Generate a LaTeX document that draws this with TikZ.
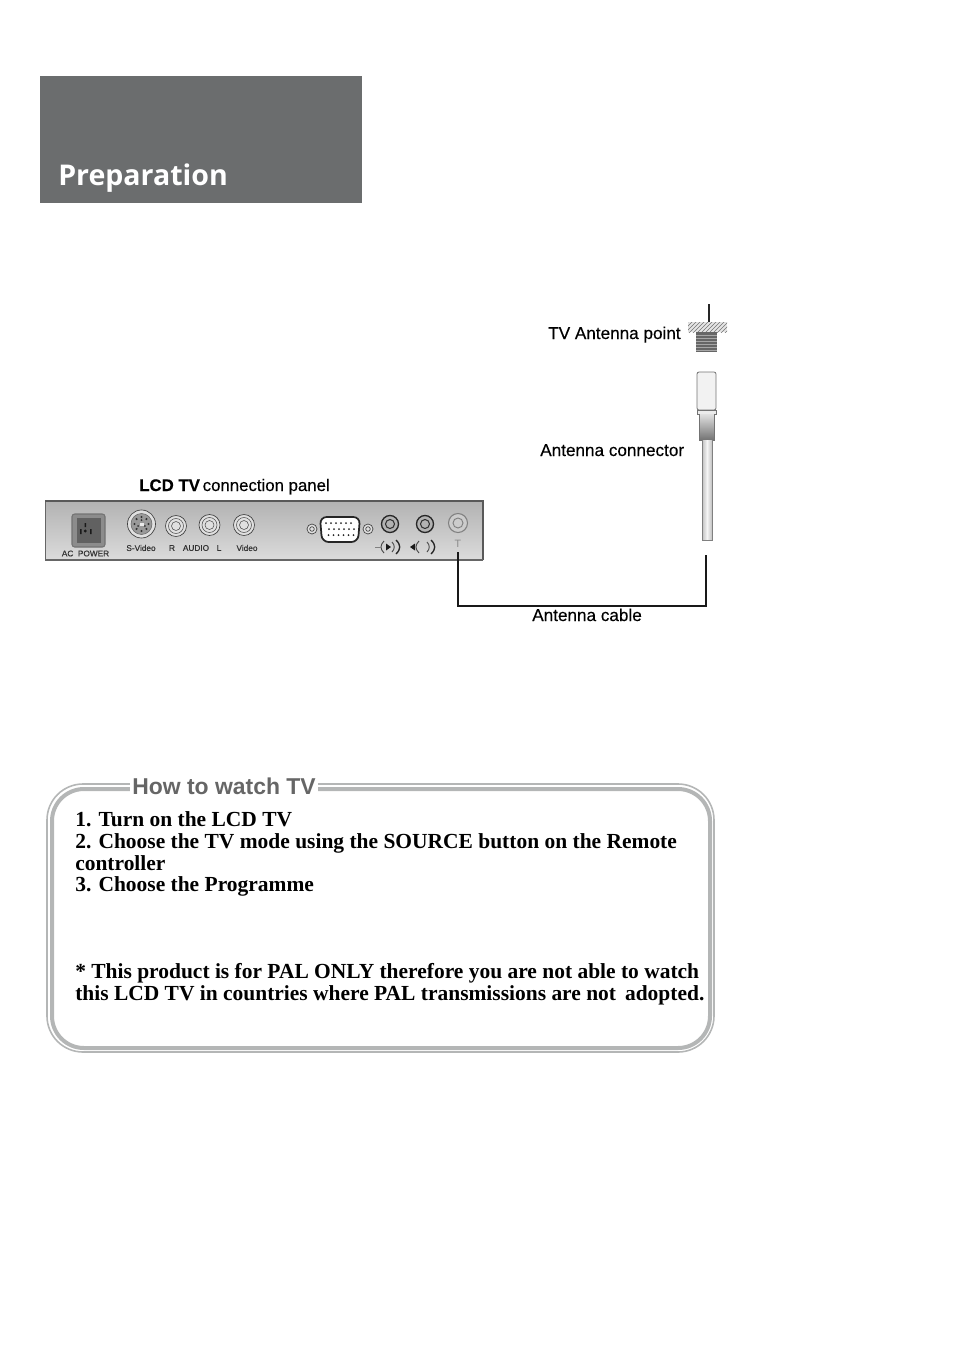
\documentclass[tikz,border=0pt]{standalone}
\usepackage{fontspec}
\setmainfont{Liberation Sans}
\newfontfamily\lblfont[FakeBold=0.35]{Liberation Sans}
\newfontfamily\bodyfont{Liberation Serif}
\newfontfamily\headfont{Open Sans}
\usetikzlibrary{patterns}
\definecolor{headgray}{HTML}{6B6D6E}
\definecolor{framegray}{HTML}{B4B6B6}
\tikzset{
  lbl/.style={inner sep=0pt, anchor=base west, font=\lblfont\fontsize{12.85}{12.85}\selectfont, text=black},
  tiny/.style={inner sep=0pt, font=\lblfont\fontsize{6.2}{6.2}\selectfont, text=black!80},
  body/.style={inner sep=0pt, anchor=base west, font=\bodyfont\bfseries\fontsize{16.1}{16.1}\selectfont},
  jack/.style={draw=black!75, fill=black!12, line width=0.5pt},
  cable/.style={line width=1.5pt, black!90},
}
\begin{document}
\begin{tikzpicture}[x=0.75pt, y=-0.75pt]
  \useasboundingbox (0,0) rectangle (954,1350);
  % header
  \fill[headgray] (40,76) rectangle (362,203);
  \node[inner sep=0pt, anchor=base west, text=white, font=\headfont\bfseries\fontsize{21.4}{21.4}\selectfont] (head) at (58,185) {Preparation};
  % panel
  \node[lbl, font=\lblfont\fontsize{12.6}{12.6}\selectfont] (paneltitle) at (139,491) {{\bfseries LCD TV}\,connection panel};
  \shade[top color=black!30, bottom color=black!14] (45,501) rectangle (483,560);
  \draw[black!60, line width=0.6pt] (45,560) -- (45,501);
  \draw[black!65, line width=0.9pt] (45,501) -- (483,501) -- (483,560);
  \draw[black!60, line width=1.2pt] (45,560) -- (483,560);
  \filldraw[draw=black!55, fill=black!45, rounded corners=2pt, line width=0.8pt] (72,514) rectangle (105,547);
  \fill[black!62] (77,518) rectangle (101,543);
  \fill[black!90] (84.5,523) rectangle (86,527) (80,529) rectangle (81.5,534) (90,529) rectangle (91.5,534);
  \fill[black!90] (85.2,531) circle (1.6);
  \node[tiny] (acpower) at (85.5,553.5) {AC\ \ POWER};
  % s-video
  \filldraw[jack] (141.5,524) circle (14);
  \filldraw[draw=black!60, fill=black!40, line width=0.4pt] (141.5,524) circle (10.5);
  \foreach \a in {0,45,...,315}
    \fill[black!80] (141.5,524) ++(\a:7) circle (1.2);
  \foreach \a in {30,150,270}
    \fill[black!80] (141.5,524) ++(\a:4) circle (1);
  \fill[black!8] (139.5,523) rectangle (143.5,526);
  \node[tiny] (svideo) at (141,548) {S-Video};
  % rca jacks
  \foreach \x/\y in {176/526, 209.5/525, 244/525} {
    \filldraw[jack] (\x,\y) circle (10.5);
    \draw[black!70, line width=0.4pt] (\x,\y) circle (7.5);
    \draw[black!70, line width=0.4pt] (\x,\y) circle (4.5);
  }
  \node[tiny] (audior) at (172,548) {R};
  \node[tiny] (audio) at (196,548) {AUDIO};
  \node[tiny] (audiol) at (219,548) {L};
  \node[tiny] (video) at (247,548) {Video};
  % vga
  \foreach \x in {312,368} {
    \filldraw[jack] (\x,529) circle (5);
    \draw[black!75, line width=0.5pt] (\x,529) circle (2.3);
  }
  \filldraw[draw=black!85, fill=white, line width=1.3pt, rounded corners=5pt] (320,517) -- (360,517) -- (358,542) -- (322,542) -- cycle;
  \foreach \x in {326,331,...,354}
    \fill[black!85] (\x,523) circle (1);
  \foreach \x in {329,334,...,354} {
    \fill[black!85] (\x,529) circle (1);
    \fill[black!85] (\x-0.5,535) circle (1);
  }
  % audio out jacks
  \foreach \x in {390,425} {
    \filldraw[draw=black!85, fill=black!30, line width=1pt] (\x,524) circle (8.5);
    \draw[black!80, line width=0.8pt] (\x,524) circle (4.5);
  }
  % speakers
  \foreach \x in {389,424} {
    \draw[black!70, line width=0.7pt] (\x-5,541) .. controls (\x-9,545) and (\x-9,549) .. (\x-5,553);
    \draw[black!85, line width=1pt] (\x+7,540) .. controls (\x+12,545) and (\x+12,549) .. (\x+7,554);
    \draw[black!70, line width=0.7pt] (\x+3,542) .. controls (\x+6,545) and (\x+6,549) .. (\x+3,552);
  }
  \fill[black!90] (391,547) -- (386,543.5) -- (386,550.5) -- cycle;
  \fill[black!90] (410,547) -- (415,543.5) -- (415,550.5) -- cycle;
  \draw[black!50, line width=0.6pt] (375,547) -- (381,547);
  % antenna jack
  \filldraw[draw=black!50, fill=black!20, line width=0.8pt] (458,523) circle (9.5);
  \draw[black!50, line width=0.7pt] (458,523) circle (5);
  \node[inner sep=0pt, text=black!45, font=\fontsize{8}{8}\selectfont] (tjack) at (458,543.5) {T};
  % antenna point
  \node[lbl] (pointlbl) at (548,339) {TV Antenna point};
  \draw[black!85, line width=2pt] (709,304) -- (709,322);
  \fill[black!10] (688,322) rectangle (727,332);
  \fill[pattern=north east lines, pattern color=black!55] (688,322) rectangle (727,332);
  \fill[black!60] (696,332) rectangle (717,352);
  \foreach \y in {335,338,...,350}
    \draw[black!35, line width=0.5pt] (696,\y) -- (717,\y);
  % connector
  \node[lbl] (connlbl) at (540,456) {Antenna connector};
  \filldraw[draw=black!55, fill=black!5, line width=0.6pt, rounded corners=1.5pt] (697,372) rectangle (716,410);
  \filldraw[draw=black!55, fill=black!8, line width=0.6pt] (697,410) rectangle (716,414);
  \shade[top color=black!12, bottom color=black!55] (699,414) rectangle (714,440);
  \draw[black!55, line width=0.5pt] (699,414) -- (699,440) -- (714,440) -- (714,414);
  \shade[left color=black!25, right color=black!25, middle color=black!4] (702,440) rectangle (712,540);
  \draw[black!50, line width=0.5pt] (702,440) -- (702,540) -- (712,540) -- (712,440);
  % cable
  \coordinate (cableT) at (458,552);
  \coordinate (cornerL) at (458,606);
  \coordinate (cornerR) at (705.5,606);
  \coordinate (cableA) at (705.5,555);
  \draw[cable] (cableT) -- (cornerL) -- (cornerR) -- (cableA);
  \node[lbl] (cablelbl) at (532,621) {Antenna cable};
  % box
  \draw[framegray, line width=1.2pt, rounded corners=27pt] (47,784) rectangle (714,1052);
  \draw[framegray, line width=3pt, rounded corners=24pt] (52,789) rectangle (710,1048);
  \node[inner sep=0pt, fill=white, minimum width=141, minimum height=15, anchor=center] (boxgap) at (224,786) {};
  \node[inner sep=0pt, text=black!60, font=\bfseries\fontsize{17.2}{17.2}\selectfont] (boxtitle) at (224,786) {How to watch TV};
  \node[body] (line1) at (75,826) {1. Turn on the LCD TV};
  \node[body] (line2) at (75,848) {2. Choose the TV mode using the SOURCE button on the Remote};
  \node[body] (line3) at (75,870) {controller};
  \node[body] (line4) at (75,891) {3. Choose the Programme};
  \node[body] (line5) at (75,978) {* This product is for PAL ONLY therefore you are not able to watch};
  \node[body] (line6) at (75,1000) {this LCD TV in countries where PAL transmissions are not\ \,adopted.};
\end{tikzpicture}
\end{document}
